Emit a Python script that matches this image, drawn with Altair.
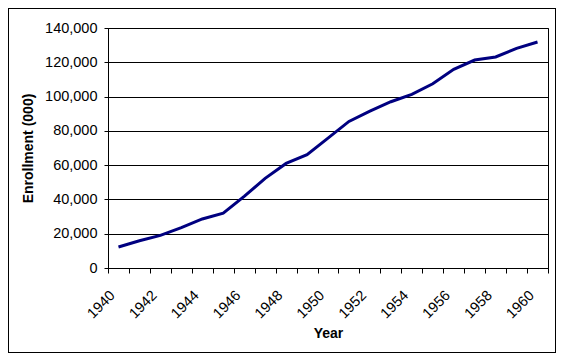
import altair as alt
import pandas as pd

years = list(range(1940, 1961))
enrollment = [12250, 15900, 19000, 23500, 28600, 32000, 41800, 52300, 61000, 66100,
              75800, 85500, 91500, 97000, 101300, 107500, 115900, 121300, 123100, 128100, 131800]
y_ticks = [0, 20000, 40000, 60000, 80000, 100000, 120000, 140000]

df = pd.DataFrame({"Year": years, "Enrollment": enrollment})

FONT = "Liberation Sans"

x_enc = alt.X(
    "Year:O",
    scale=alt.Scale(type="band", paddingInner=0, paddingOuter=0),
    axis=alt.Axis(
        title="Year",
        tickBand="extent",
        labelExpr="datum.value % 2 == 0 ? datum.label : ''",
        labelAngle=-45,
        labelAlign="right",
        labelBaseline="middle",
        labelPadding=20,
        labelOffset=-6,
        tickSize=5,
        labelFontSize=14.5,
        labelFont=FONT,
        labelColor="black",
        titleFont=FONT,
        titleFontSize=14,
        titleFontWeight="bold",
        titleColor="black",
        titleBaseline="alphabetic",
        titleY=69,
        domainColor="black",
        tickColor="black",
        grid=False,
        labelOverlap=False,
    ),
)

y_enc = alt.Y(
    "Enrollment:Q",
    scale=alt.Scale(domain=[0, 140000], nice=False),
    axis=alt.Axis(
        title="Enrollment (000)",
        values=y_ticks,
        format=",d",
        tickSize=4,
        labelPadding=7,
        labelFontSize=14.5,
        labelFont=FONT,
        labelColor="black",
        titleFont=FONT,
        titleFontSize=14,
        titleFontWeight="bold",
        titleColor="black",
        titleAngle=-90,
        titleBaseline="alphabetic",
        titleX=-76,
        titleY=120,
        titleAlign="center",
        grid=True,
        gridColor="black",
        gridOpacity=1,
        gridWidth=1,
        domainColor="black",
        tickColor="black",
    ),
)

line = alt.Chart(df).mark_line(color="#000080", strokeWidth=3).encode(x=x_enc, y=y_enc)

frame = alt.Chart(df).mark_rect(fillOpacity=0, stroke="black", strokeWidth=1).encode(
    x=alt.value(-99.5), x2=alt.value(447.5), y=alt.value(-19.5), y2=alt.value(324.5)
)

chart = alt.layer(line, frame).properties(
    width=440,
    height=240,
    autosize=alt.AutoSizeParams(type="none"),
    padding={"left": 100, "top": 20, "right": 8, "bottom": 85},
    background="white",
).configure_view(stroke="black", strokeWidth=1)

chart.save("out.html", embed_options={"renderer": "svg", "actions": False})
